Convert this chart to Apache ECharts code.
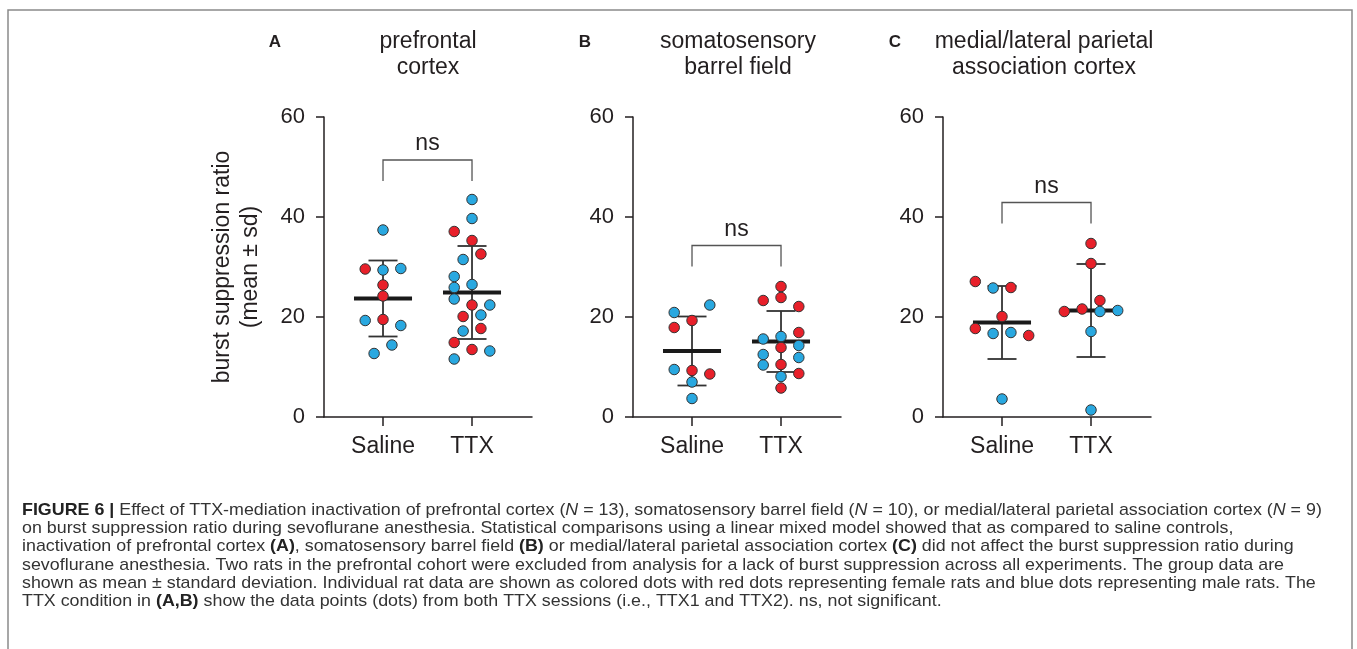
<!DOCTYPE html>
<html>
<head>
<meta charset="utf-8">
<script src="https://cdn.jsdelivr.net/npm/echarts@6/dist/echarts.min.js"></script>
<style>
html,body{margin:0;padding:0;background:#fff;}
#chart{width:1357px;height:649px;}
</style>
</head>
<body>
<div id="chart"></div>
<script>
// ---------- data ----------
const groups = ['Saline', 'TTX'];
const yTicks = [0, 20, 40, 60];
const panelLetters = ['A', 'B', 'C'];
const panelTitles = [['prefrontal', 'cortex'], ['somatosensory', 'barrel field'], ['medial/lateral parietal', 'association cortex']];
const yAxisName = ['burst suppression ratio', '(mean \u00b1 sd)'];

// individual rats: value, sex (f = female/red, m = male/blue), horizontal jitter step
const aSalineVals = [37.4, 29.6, 29.4, 29.7, 26.4, 24.2, 19.3, 19.5, 18.3, 14.4, 12.7];
const aSalineSex  = ['m','f','m','m','f','f','m','f','m','m','m'];
const aSalineJit  = [0, -2, 0, 2, 0, 0, -2, 0, 2, 1, -1];
const aTtxVals = [43.5, 39.7, 37.1, 35.3, 32.6, 31.5, 28.1, 26.5, 25.9, 23.6, 22.4, 22.4, 20.4, 20.1, 17.7, 17.2, 14.9, 13.5, 13.2, 11.6];
const aTtxSex  = ['m','m','f','f','f','m','m','m','m','m','f','m','m','f','f','m','f','f','m','m'];
const aTtxJit  = [0, 0, -2, 0, 1, -1, -2, 0, -2, -2, 0, 2, 1, -1, 1, -1, -2, 0, 2, -2];

const bSalineVals = [22.4, 20.9, 19.3, 17.9, 9.5, 9.3, 8.6, 7.0, 3.7];
const bSalineSex  = ['m','m','f','f','m','f','f','m','m'];
const bSalineJit  = [2, -2, 0, -2, -2, 0, 2, 0, 0];
const bTtxVals = [26.1, 23.9, 23.3, 22.1, 16.9, 15.6, 16.1, 14.3, 13.9, 12.5, 11.9, 10.4, 10.5, 8.7, 8.1, 5.8];
const bTtxSex  = ['f','f','f','f','f','m','m','m','f','m','m','m','f','f','m','f'];
const bTtxJit  = [0, 0, -2, 2, 2, -2, 0, 2, 0, -2, 2, -2, 0, 2, 0, 0];

const cSalineVals = [27.1, 25.8, 25.9, 20.1, 17.7, 16.7, 16.9, 16.3, 3.6];
const cSalineSex  = ['f','m','f','f','f','m','m','f','m'];
const cSalineJit  = [-3, -1, 1, 0, -3, -1, 1, 3, 0];
const cTtxVals = [34.7, 30.7, 23.3, 21.1, 21.6, 21.1, 21.3, 17.1, 1.4];
const cTtxSex  = ['f','f','f','f','f','m','m','m','m'];
const cTtxJit  = [0, 0, 1, -3, -1, 1, 3, 0, 0];

// group summaries (mean, sd) [Saline, TTX]
const aMean = [23.7, 24.9], aSd = [7.6, 9.3];
const bMean = [13.2, 15.1], bSd = [6.9, 6.1];
const cMean = [18.9, 21.3], cSd = [7.3, 9.3];

// significance brackets: top of bracket, label
const bracketTop = [51.4, 34.3, 42.9];
const bracketLabel = ['ns', 'ns', 'ns'];

const captionLines = [
  '{b|FIGURE 6 |} Effect of TTX-mediation inactivation of prefrontal cortex ({i|N} = 13), somatosensory barrel field ({i|N} = 10), or medial/lateral parietal association cortex ({i|N} = 9)',
  'on burst suppression ratio during sevoflurane anesthesia. Statistical comparisons using a linear mixed model showed that as compared to saline controls,',
  'inactivation of prefrontal cortex {b|(A)}, somatosensory barrel field {b|(B)} or medial/lateral parietal association cortex {b|(C)} did not affect the burst suppression ratio during',
  'sevoflurane anesthesia. Two rats in the prefrontal cohort were excluded from analysis for a lack of burst suppression across all experiments. The group data are',
  'shown as mean \u00b1 standard deviation. Individual rat data are shown as colored dots with red dots representing female rats and blue dots representing male rats. The',
  'TTX condition in {b|(A,B)} show the data points (dots) from both TTX sessions (i.e., TTX1 and TTX2). ns, not significant.'
];

// ---------- build ----------
const RED = '#e8202a', BLUE = '#29a8e0', INK = '#231f20';
const FONT = '"Liberation Sans", Arial, Helvetica, sans-serif';
const CAPFONT = '"Liberation Sans", Arial, sans-serif';
const FS = 23;
const JIT = 0.1;

const panels = [
  {sal: [aSalineVals, aSalineSex, aSalineJit], ttx: [aTtxVals, aTtxSex, aTtxJit], mean: aMean, sd: aSd},
  {sal: [bSalineVals, bSalineSex, bSalineJit], ttx: [bTtxVals, bTtxSex, bTtxJit], mean: bMean, sd: bSd},
  {sal: [cSalineVals, cSalineSex, cSalineJit], ttx: [cTtxVals, cTtxSex, cTtxJit], mean: cMean, sd: cSd}
];
const gridLefts = [324, 633, 943];

const grid = [], xAxis = [], yAxis = [], series = [];
panels.forEach((p, i) => {
  grid.push({left: gridLefts[i], top: 117, width: 208, height: 300});
  xAxis.push({
    type: 'value', gridIndex: i, min: 0.337, max: 2.674,
    splitLine: {show: false},
    axisLine: {show: true, onZero: false, lineStyle: {color: INK, width: 1.5}},
    axisTick: {show: true, length: 9, customValues: [1, 2], lineStyle: {color: INK, width: 1.5}},
    axisLabel: {customValues: [1, 2], formatter: v => groups[Math.round(v) - 1] || '', margin: 18,
                fontSize: FS, color: INK, fontFamily: FONT}
  });
  yAxis.push({
    type: 'value', gridIndex: i, min: 0, max: 60, interval: 20,
    splitLine: {show: false},
    axisLine: {show: true, lineStyle: {color: INK, width: 1.5}},
    axisTick: {show: true, length: 8, lineStyle: {color: INK, width: 1.5}},
    axisLabel: {margin: 19, fontSize: FS - 1, color: INK, fontFamily: FONT,
                formatter: v => yTicks.includes(v) ? String(v) : ''},
    name: i === 0 ? yAxisName.join('\n') : '',
    nameLocation: 'middle', nameRotate: 90, nameGap: 59,
    nameTextStyle: {fontSize: FS, lineHeight: 28, color: INK, fontFamily: FONT}
  });

  // error bars + mean line
  series.push({
    type: 'custom', xAxisIndex: i, yAxisIndex: i, z: 2, clip: false, silent: true,
    data: [[1, p.mean[0], p.sd[0]], [2, p.mean[1], p.sd[1]]],
    renderItem: (params, api) => {
      const x = api.value(0), m = api.value(1), s = api.value(2);
      const c = api.coord([x, m]);
      const t = api.coord([x, m + s]);
      const b = api.coord([x, m - s]);
      const halfMean = api.size([0.326, 0])[0];
      const halfCap = api.size([0.163, 0])[0];
      const st = {stroke: '#333', lineWidth: 1.8};
      return {type: 'group', children: [
        {type: 'line', shape: {x1: t[0], y1: t[1], x2: b[0], y2: b[1]}, style: st},
        {type: 'line', shape: {x1: t[0] - halfCap, y1: t[1], x2: t[0] + halfCap, y2: t[1]}, style: st},
        {type: 'line', shape: {x1: b[0] - halfCap, y1: b[1], x2: b[0] + halfCap, y2: b[1]}, style: st},
        {type: 'line', shape: {x1: c[0] - halfMean, y1: c[1], x2: c[0] + halfMean, y2: c[1]},
         style: {stroke: '#1a1a1a', lineWidth: 4}}
      ]};
    }
  });

  // dots
  const pts = [];
  [p.sal, p.ttx].forEach((g, gi) => {
    g[0].forEach((v, k) => {
      pts.push({value: [gi + 1 + g[2][k] * JIT, v],
                itemStyle: {color: g[1][k] === 'f' ? RED : BLUE}});
    });
  });
  series.push({
    type: 'scatter', xAxisIndex: i, yAxisIndex: i, z: 3, symbolSize: 10.5, clip: false,
    itemStyle: {borderColor: '#333', borderWidth: 1, opacity: 1},
    data: pts
  });

  // significance bracket
  series.push({
    type: 'custom', xAxisIndex: i, yAxisIndex: i, z: 2, clip: false, silent: true,
    data: [[1, 2, bracketTop[i], 4.2]],
    renderItem: (params, api) => {
      const x1 = api.value(0), x2 = api.value(1), top = api.value(2), drop = api.value(3);
      const a = api.coord([x1, top - drop]), b = api.coord([x1, top]);
      const c = api.coord([x2, top]), d = api.coord([x2, top - drop]);
      return {type: 'group', children: [
        {type: 'polyline', shape: {points: [a, b, c, d]}, style: {stroke: '#555', lineWidth: 1.3, fill: null}},
        {type: 'text', x: (b[0] + c[0]) / 2, y: b[1] - 16,
         style: {text: bracketLabel[i], fontSize: FS, fill: INK, fontFamily: FONT,
                 align: 'center', verticalAlign: 'middle'}}
      ]};
    }
  });
});

// titles + caption + frame as graphic
const graphic = [
  {type: 'rect', shape: {x: 8, y: 10, width: 1344, height: 660}, style: {fill: null, stroke: '#8a8a8a', lineWidth: 1.5}, silent: true}
];
const letterX = [275, 585, 895];
const titleX = [428, 738, 1044];
panelLetters.forEach((L, i) => {
  graphic.push({type: 'text', x: letterX[i], y: 42, style: {text: L, fontSize: 17, fontWeight: 'bold', fill: INK,
    fontFamily: FONT, align: 'center', verticalAlign: 'middle'}});
  panelTitles[i].forEach((t, k) => {
    graphic.push({type: 'text', x: titleX[i], y: 42 + k * 26, style: {text: t, fontSize: FS, fill: INK,
      fontFamily: FONT, align: 'center', verticalAlign: 'middle'}});
  });
});
captionLines.forEach((line, k) => {
  graphic.push({type: 'text', x: 22, y: 510 + k * 18.35, scaleX: 1.05, style: {
    text: line, fontSize: 17, fill: '#333', fontFamily: CAPFONT, verticalAlign: 'middle', align: 'left',
    rich: {b: {fontWeight: 'bold', fontSize: 17, fontFamily: CAPFONT, fill: '#222'},
           i: {fontStyle: 'italic', fontSize: 17, fontFamily: CAPFONT, fill: '#333'}}
  }});
});

const chart = echarts.init(document.getElementById('chart'), null, {renderer: 'canvas'});
chart.setOption({
  animation: false,
  backgroundColor: '#fff',
  grid, xAxis, yAxis, series, graphic
});
</script>
</body>
</html>
